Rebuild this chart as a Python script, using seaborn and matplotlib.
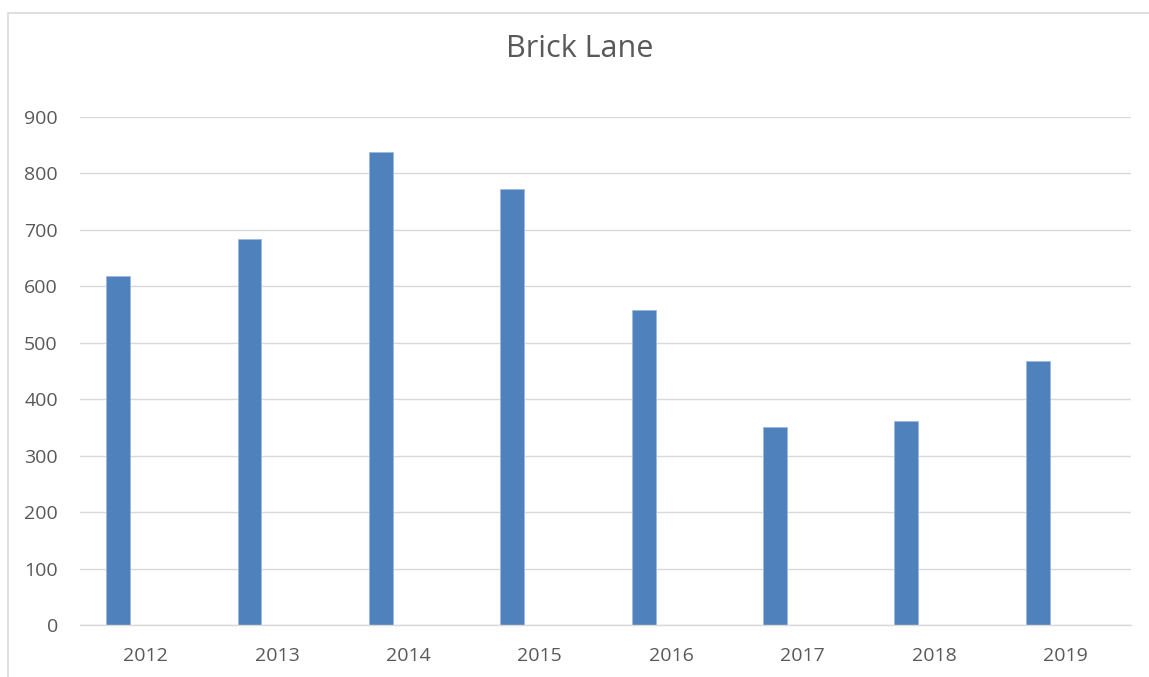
import matplotlib
matplotlib.use("Agg")
import matplotlib.pyplot as plt
import seaborn as sns
import pandas as pd
import numpy as np
from matplotlib.patches import Rectangle

years = ["2012", "2013", "2014", "2015", "2016", "2017", "2018", "2019"]
values = [619, 683, 838, 772, 558, 351, 362, 468]
title = "Brick Lane"
yticks = [0, 100, 200, 300, 400, 500, 600, 700, 800, 900]

sns.set_theme(style="white")
plt.rcParams['font.family'] = ['Open Sans', 'DejaVu Sans']

df = pd.DataFrame({
    "year": years * 2,
    "value": values + [np.nan] * len(values),
    "series": ["a"] * len(years) + ["b"] * len(years),
})

W, H = 1149, 677
fig = plt.figure(figsize=(W / 100, H / 100), dpi=100)
ax = fig.add_axes([80 / W, 1 - 625 / H, (1131 - 80) / W, (625 - 117) / H])

sns.barplot(data=df, x="year", y="value", hue="series", order=years,
            palette=["#4F81BD", "#C0504D"], width=0.84, gap=0.567,
            dodge=True, legend=False, ax=ax, saturation=1,
            edgecolor="#9DB9DE", linewidth=0.6)

ax.set_xlim(-0.5, len(years) - 0.5)
ax.set_ylim(0, 900)
ax.set_yticks(yticks)
ax.set_yticklabels([str(t) for t in yticks])
ax.yaxis.grid(True, color="#D9D9D9", linewidth=1.0)
ax.set_axisbelow(True)
for s in ["top", "right", "left"]:
    ax.spines[s].set_visible(False)
ax.spines["bottom"].set_color("#D9D9D9")
ax.spines["bottom"].set_linewidth(1.0)
ax.tick_params(axis="both", length=0, colors="#595959", labelsize=14)
ax.tick_params(axis="y", pad=16)
ax.tick_params(axis="x", pad=16)
ax.set_xlabel("")
ax.set_ylabel("")

fig.text(580 / W, 1 - 49 / H, title, ha="center", va="center",
         fontsize=22, color="#595959")

fig.patches.append(Rectangle((8 / W, -0.05), 1.1, 1 - 13 / H + 0.05,
                             transform=fig.transFigure, fill=False,
                             edgecolor="#D9D9D9", linewidth=1.2))

fig.savefig("out.png", dpi=100)
